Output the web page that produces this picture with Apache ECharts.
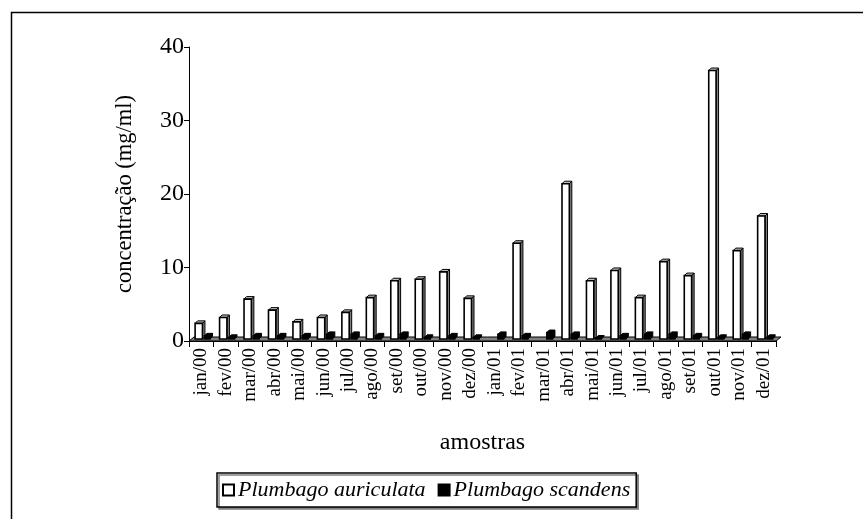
<!DOCTYPE html>
<html>
<head>
<meta charset="utf-8">
<script src="https://cdn.jsdelivr.net/npm/echarts@6/dist/echarts.min.js"></script>
<style>html,body{margin:0;padding:0;background:#fff;}#c{width:863px;height:519px;}</style>
</head>
<body>
<div id="c"></div>
<script>
const months = ['jan/00','fev/00','mar/00','abr/00','mai/00','jun/00','jul/00','ago/00','set/00','out/00','nov/00','dez/00',
                'jan/01','fev/01','mar/01','abr/01','mai/01','jun/01','jul/01','ago/01','set/01','out/01','nov/01','dez/01'];
const auriculata = [2.4,3.2,5.7,4.2,2.6,3.2,3.9,5.9,8.2,8.4,9.4,5.8, 0,13.3,0,21.4,8.2,9.6,5.9,10.8,8.9,36.8,12.3,17.0];
const scandens   = [0.7,0.5,0.7,0.7,0.7,0.9,0.9,0.7,0.9,0.5,0.7,0.5, 0.9,0.7,1.15,0.9,0.15,0.7,0.9,0.9,0.7,0.5,0.9,0.5];
const yTicks = [0,10,20,30,40];

const FONT = 'Liberation Serif';
const D = 2.5; // 3D depth in px

function bar3d(offA, offB, front, side, topc, stroke) {
  return function (params, api) {
    const i = api.value(0), v = api.value(1);
    if (!(v > 0)) return null;
    const base = api.coord([i, 0]);
    const top = api.coord([i, v]);
    const bw = api.size([1, 0])[0];
    const x0 = base[0] + bw * offA, x1 = base[0] + bw * offB;
    const y0 = base[1] - 2, y1 = Math.min(top[1], y0 - 1);
    return {
      type: 'group',
      children: [
        { type: 'polygon', shape: { points: [[x1, y0], [x1 + D, y0 - D], [x1 + D, y1 - D], [x1, y1]] },
          style: { fill: side, stroke: stroke, lineWidth: 1 } },
        { type: 'polygon', shape: { points: [[x0, y1], [x1, y1], [x1 + D, y1 - D], [x0 + D, y1 - D]] },
          style: { fill: topc, stroke: stroke, lineWidth: 1 } },
        { type: 'rect', shape: { x: x0, y: y1, width: x1 - x0, height: y0 - y1 },
          style: { fill: front, stroke: stroke, lineWidth: 1.6 } }
      ]
    };
  };
}

const chart = echarts.init(document.getElementById('c'), null, { renderer: 'canvas' });
chart.setOption({
  animation: false,
  backgroundColor: '#fff',
  textStyle: { fontFamily: FONT, color: '#000' },
  grid: { left: 189, top: 47, width: 587, height: 294, containLabel: false },
  graphic: [
    { type: 'rect', left: 9, top: 10, shape: { width: 900, height: 600 }, z: -10,
      style: { fill: 'none', stroke: '#000', lineWidth: 1.5 } }
  ],
  legend: {
    data: ['Plumbago auriculata', 'Plumbago scandens'],
    left: 217, top: 473,
    icon: 'rect', itemWidth: 11, itemHeight: 11, itemGap: 12,
    padding: [6, 6, 6, 5],
    backgroundColor: '#fff', borderColor: '#000', borderWidth: 1.5,
    shadowColor: '#808080', shadowOffsetX: 2, shadowOffsetY: 2, shadowBlur: 0,
    textStyle: { fontFamily: FONT, fontStyle: 'italic', fontSize: 22, color: '#000', padding: [0, 0, 0, -1] },
    selectedMode: false
  },
  xAxis: {
    type: 'category', data: months, boundaryGap: true,
    name: 'amostras', nameLocation: 'middle', nameGap: 90,
    nameTextStyle: { fontFamily: FONT, fontSize: 24, color: '#000' },
    axisLine: { show: true, lineStyle: { color: '#000', width: 1 } },
    axisTick: { show: true, alignWithLabel: false, length: 6, lineStyle: { color: '#000' } },
    axisLabel: { rotate: 90, interval: 0, fontFamily: FONT, fontSize: 19, color: '#000', margin: 7 },
    splitLine: { show: false }
  },
  yAxis: {
    type: 'value', min: 0, max: 40, interval: 10,
    name: 'concentração (mg/ml)', nameLocation: 'middle', nameGap: 52, nameRotate: 90,
    nameTextStyle: { fontFamily: FONT, fontSize: 22.5, color: '#000' },
    axisLine: { show: true, lineStyle: { color: '#000', width: 1 } },
    axisTick: { show: true, length: 5, lineStyle: { color: '#000' } },
    axisLabel: { fontFamily: FONT, fontSize: 24, color: '#000', margin: 5,
      formatter: function (v) { return yTicks.indexOf(v) >= 0 ? String(v) : ''; } },
    splitLine: { show: false }
  },
  series: [
    { type: 'custom', name: 'floor', silent: true, z: 1,
      data: [[0, 0]],
      renderItem: function (params, api) {
        const a = api.coord([0, 0]);
        const bw = api.size([1, 0])[0];
        const x0 = a[0] - bw / 2, x1 = a[0] + bw * (months.length - 0.5), y = a[1];
        return { type: 'polygon', shape: { points: [[x0, y], [x1, y], [x1 + 5, y - 4], [x0 + 5, y - 4]] },
          style: { fill: '#808080', stroke: '#000', lineWidth: 1 } };
      } },
    { type: 'custom', name: 'Plumbago auriculata', z: 3,
      itemStyle: { color: '#fff', borderColor: '#000', borderWidth: 1.5 },
      data: auriculata.map((v, i) => [i, v]),
      renderItem: bar3d(-0.25, 0.05, '#fff', '#808080', '#c0c0c0', '#000') },
    { type: 'custom', name: 'Plumbago scandens', z: 4,
      itemStyle: { color: '#000', borderColor: '#000', borderWidth: 1 },
      data: scandens.map((v, i) => [i, v]),
      renderItem: bar3d(0.13, 0.36, '#000', '#000', '#000', '#000') }
  ]
});
</script>
</body>
</html>
